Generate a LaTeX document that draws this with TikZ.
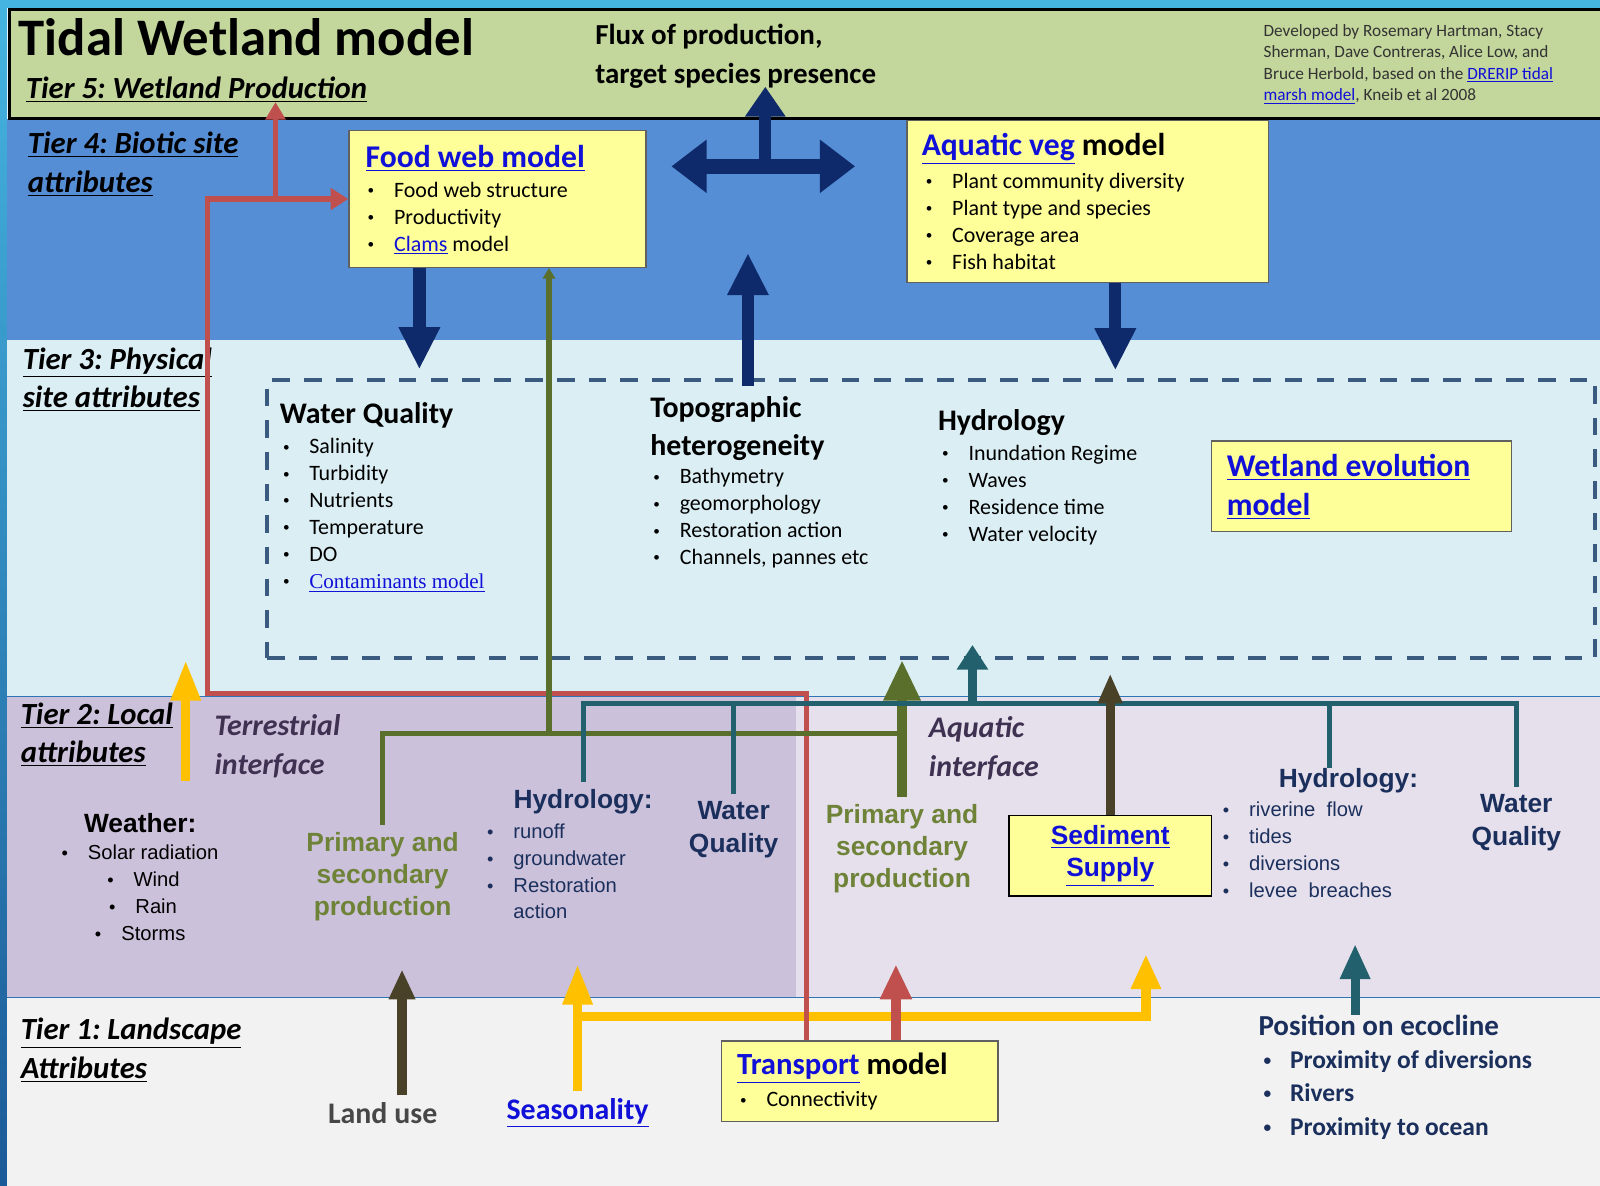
\documentclass[tikz,border=0pt]{standalone}
\usepackage{fontspec}
\setmainfont{Carlito}
\newfontfamily\arialfont{Liberation Sans}
\newfontfamily\timesfont{Liberation Serif}
\usepackage{xcolor}
\usepackage{graphicx}
\usetikzlibrary{arrows.meta,positioning,fit}
\definecolor{topcyan}{HTML}{45B4E0}
\definecolor{edgeblue}{HTML}{1B5A98}
\definecolor{t5green}{HTML}{C3D69B}
\definecolor{t4blue}{HTML}{558ED5}
\definecolor{t3blue}{HTML}{DBEEF4}
\definecolor{t2left}{HTML}{CCC1DA}
\definecolor{t2right}{HTML}{E6E0EC}
\definecolor{t1gray}{HTML}{F2F2F2}
\definecolor{sepblue}{HTML}{2E75B6}
\definecolor{boxyellow}{HTML}{FFFF99}
\definecolor{linkblue}{HTML}{1010D8}
\definecolor{navyar}{HTML}{0E2A6A}
\definecolor{dashcol}{HTML}{3B5A80}
\definecolor{redln}{HTML}{C0504D}
\definecolor{oliveln}{HTML}{5B6F2C}
\definecolor{olivetext}{HTML}{6E8238}
\definecolor{tealln}{HTML}{23606E}
\definecolor{brownln}{HTML}{4A4129}
\definecolor{yelln}{HTML}{FFC000}
\definecolor{purpletext}{HTML}{3F3151}
\definecolor{navytext}{HTML}{1B2F5C}
\definecolor{credit}{HTML}{333333}
\newcommand{\fsz}[2]{\fontsize{#1}{#2}\selectfont}
\newcommand{\link}[1]{\textcolor{linkblue}{\underline{#1}}}
\newcommand{\bul}{\makebox[15pt][l]{\raisebox{0.12em}{\scalebox{0.6}{\textbullet}}}}
\newcommand{\abul}{\makebox[15pt][l]{\scalebox{0.9}{\textbullet}}}
\frenchspacing

\begin{document}
\begin{tikzpicture}[x=0.020408cm,y=-0.020408cm,
  lbl/.style={anchor=west,inner sep=0pt,align=left},
  tier/.style={lbl,font=\fsz{17.5}{22}\bfseries\itshape},
  head/.style={lbl,font=\fsz{17}{22}\bfseries},
  items/.style={lbl,font=\fsz{12.5}{15.3}},
  arhead/.style={lbl,font=\fsz{15}{18.5}\arialfont\bfseries,text=navytext},
  aritems/.style={lbl,font=\fsz{11.5}{15.3}\arialfont},
  prod/.style={align=center,inner sep=4pt,font=\fsz{15}{18.3}\arialfont\bfseries,text=olivetext},
  iface/.style={lbl,font=\fsz{17}{22}\bfseries\itshape,text=purpletext},
  ybox/.style={draw=gray!75!black,fill=boxyellow,line width=0.8pt,inner sep=0pt}]
    \useasboundingbox (0,0) rectangle (1568,1162);

    % Frame
    \fill[topcyan] (0,0) rectangle (1568,8);
    \shade[top color=topcyan,bottom color=edgeblue] (0,0) rectangle (7,1162);

    % Tier bands
    \fill[t4blue] (7,117) rectangle (1568,333);
    \fill[t3blue] (7,333) rectangle (1568,683);
    \fill[t2left] (7,683) rectangle (780,978);
    \fill[t2right] (780,683) rectangle (1568,978);
    \fill[t1gray] (7,978) rectangle (1568,1162);
    \draw[sepblue,line width=0.6pt] (7,683) -- (1568,683);
    \draw[sepblue,line width=0.6pt] (7,978) -- (1568,978);
    \filldraw[fill=t5green,draw=black,line width=1.8pt] (9,9) rectangle (1580,116);

    % Tier 5: Wetland production
    \node[lbl,font=\fsz{30}{36}\bfseries] (title) at (18,36) {Tidal Wetland model};
    \node[tier] (t5) at (25,88) {\underline{Tier 5: Wetland Production}};
    \node[lbl,font=\fsz{16.5}{22}\bfseries] (flux) at (583,55) {Flux of production,\\target species presence};
    \node[lbl,font=\fsz{9.8}{12.2},text=credit] (cred) at (1238,63)
      {Developed by Rosemary Hartman, Stacy\\Sherman, Dave Contreras, Alice Low, and\\Bruce Herbold, based on the \link{DRERIP tidal}\\\link{marsh model}, Kneib et al 2008};

    % Tier 4: Biotic site attributes
    \node[tier] (t4) at (27,161) {\underline{Tier 4: Biotic site}\\\underline{attributes}};
    \node[ybox,fit={(342,128) (633,262)}] (fw) {};
    \node[lbl,font=\fsz{18}{22}\bfseries] (fwt) at (358,155) {\link{Food web model}};
    \node[items] (fwl) at (360,214) {\bul Food web structure\\\bul Productivity\\\bul \link{Clams} model};
    \node[ybox,fit={(889,118) (1243,277)}] (av) {};
    \node[lbl,font=\fsz{18}{22}\bfseries] (avt) at (903,146) {\link{Aquatic veg} model};
    \node[items] (avl) at (907,217) {\bul Plant community diversity\\\bul Plant type and species\\\bul Coverage area\\\bul Fish habitat};

    % Tier 3: Physical site attributes
    \node[tier] (t3) at (22,372) {\underline{Tier 3: Physical}\\\underline{site attributes}};
    \node[draw=dashcol,line width=2.3pt,dash pattern=on 10pt off 8pt,inner sep=0pt,fit={(262,372) (1563,645)}] (phys) {};
    \node[head] (wq) at (274,407) {Water Quality};
    \node[items] (wql) at (277,505) {\bul Salinity\\\bul Turbidity\\\bul Nutrients\\\bul Temperature\\\bul DO\\\bul {\timesfont\fsz{12}{15.3}\link{Contaminants model}}};
    \node[head] (topo) at (637,420) {Topographic\\heterogeneity};
    \node[items] (topol) at (640,508) {\bul Bathymetry\\\bul geomorphology\\\bul Restoration action\\\bul Channels, pannes etc};
    \node[head] (hyd) at (919,414) {Hydrology};
    \node[items] (hydl) at (923,485) {\bul Inundation Regime\\\bul Waves\\\bul Residence time\\\bul Water velocity};
    \node[ybox,fit={(1187,432) (1481,521)}] (we) {};
    \node[lbl,font=\fsz{18}{22}\bfseries] (wet) at (1202,477) {\link{Wetland evolution}\\\link{model}};

    % Tier 2: Local attributes
    \node[tier] (t2) at (20,720) {\underline{Tier 2: Local}\\\underline{attributes}};
    \node[iface] (terr) at (210,731) {Terrestrial\\interface};
    \node[iface] (aqi) at (910,733) {Aquatic\\interface};
    \node[arhead,text=black] (wth) at (82,807) {Weather:};
    \node[aritems] (wthl) at (60,875) {\abul Solar radiation\\\hspace*{26pt}\abul Wind\\\hspace*{27pt}\abul Rain\\\hspace*{19pt}\abul Storms};
    \node[prod] (prodL) at (375,859) {Primary and\\secondary\\production};
    \node[arhead,inner sep=4pt] (hyL) at (496,786) {Hydrology:};
    \node[aritems,text=navytext] (hyLl) at (477,854) {\abul runoff\\\abul groundwater\\\abul Restoration\\\hspace*{15pt}action};
    \node[arhead,align=center,anchor=center,inner sep=4pt] (wqL) at (719,813) {Water\\Quality};
    \node[prod] (prodR) at (884,832) {Primary and\\secondary\\production};
    \node[draw=black,fill=boxyellow,line width=0.8pt,inner sep=0pt,fit={(989,799) (1187,878)}] (ss) {};
    \node[align=center,font=\fsz{15}{18.5}\arialfont\bfseries] (sst) at (ss.center) {\link{Sediment}\\\link{Supply}};
    \node[arhead] (hyR) at (1253,765) {Hydrology:};
    \node[aritems,text=navytext] (hyRl) at (1198,833) {\abul riverine\ \ flow\\\abul tides\\\abul diversions\\\abul levee\ \ breaches};
    \node[arhead,align=center,anchor=center,inner sep=4pt] (wqR) at (1486,806) {Water\\Quality};

    % Tier 1: Landscape attributes
    \node[tier] (t1) at (20,1029) {\underline{Tier 1: Landscape}\\\underline{Attributes}};
    \node[inner sep=4pt,font=\fsz{17}{22}\bfseries,text=black!72] (lu) at (375,1091) {Land use};
    \node[inner sep=4pt,font=\fsz{17}{22}\bfseries] (sea) at (566,1091) {\link{Seasonality}};
    \node[ybox,fit={(707,1020) (978,1099)}] (tm) {};
    \node[lbl,font=\fsz{17.5}{22}\bfseries] (tmt) at (722,1047) {\link{Transport} model};
    \node[items] (tml) at (725,1079) {\bul Connectivity};
    \node[lbl,inner sep=0pt,font=\fsz{16.5}{22}\bfseries,text=navytext] (pos) at (1233,1005) {Position on ecocline};
    \node[lbl,font=\fsz{14.5}{18.9}\bfseries,text=navytext] (posl) at (1238,1073) {\bul Proximity of diversions\\\bul Rivers\\\bul Proximity to ocean};

    % Junction points
    \coordinate (t5in) at (270,100);
    \coordinate (rbr) at (270,195);
    \coordinate (rcor) at (203,680);
    \coordinate (rdn) at (790,0);
    \coordinate (rup) at (878,945);
    \coordinate (ohz) at (538,719);
    \coordinate (thz) at (0,689);
    \coordinate (thr) at (1303,689);
    \coordinate (tup) at (953,689);
    \coordinate (tupend) at (953,632);
    \coordinate (tpos) at (1328,925);
    \coordinate (bsed) at (1089,660);
    \coordinate (luar) at (394,950);
    \coordinate (wtbot) at (182,765);
    \coordinate (wttop) at (182,647);
    \coordinate (yhz) at (0,996);
    \coordinate (yend) at (1123,935);
    \coordinate (dbl) at (658,163);
    \coordinate (dbr) at (838,163);
    \coordinate (dbm) at (750,160);
    \coordinate (flx) at (750,85);
    \coordinate (tpbot) at (733,378);
    \coordinate (tptop) at (733,248);
    \coordinate (wqin) at (411,362);
    \coordinate (hyin) at (1093,363);

    % Yellow: weather and seasonality
    \draw[yelln,line width=5.2pt,-{Triangle[width=16pt,length=23pt]}] (wtbot) -- (wttop);
    \draw[yelln,line width=5.2pt,-{Triangle[width=16pt,length=23pt]}] (sea.north) -- (sea.north |- rup);
    \draw[yelln,line width=5.2pt,-{Triangle[width=16pt,length=20pt]}] (sea.north |- yhz) -| (yend);

    % Red: transport
    \draw[redln,line width=2.9pt,-{Triangle[width=12pt,length=10pt]}] (tm.north -| rdn) |- (rcor) |- (fw.west);
    \draw[redln,line width=2.9pt,-{Triangle[width=11pt,length=10pt]}] (rbr) -- (t5in);
    \draw[redln,line width=5.2pt,-{Triangle[width=17pt,length=20pt]}] (tm.north -| rup) -- (rup);

    % Olive: production
    \draw[oliveln,line width=2.9pt] (prodL.north) |- (prodR.north |- ohz);
    \draw[oliveln,line width=2.9pt,-{Triangle[width=7pt,length=6pt]}] (ohz) -- (fw.south -| ohz);
    \draw[oliveln,line width=5.2pt,-{Triangle[width=20pt,length=23pt]}] (prodR.north) -- (prodR.north |- phys.south);

    % Teal: hydrology and water quality
    \draw[tealln,line width=2.9pt] (hyL.north) |- (wqR.north |- thz) -- (wqR.north);
    \draw[tealln,line width=2.9pt] (wqL.north) -- (wqL.north |- thz);
    \draw[tealln,line width=2.9pt] (thr) -- (thr |- hyR.north);
    \draw[tealln,line width=5.2pt,-{Triangle[width=17pt,length=14pt]}] (tup) -- (tupend);
    \draw[tealln,line width=5.2pt,-{Triangle[width=16pt,length=20pt]}] (pos.north -| tpos) -- (tpos);

    % Brown: sediment and land use
    \draw[brownln,line width=5.2pt,-{Triangle[width=13pt,length=17pt]}] (ss.north) -- (ss.north |- bsed);
    \draw[brownln,line width=5.2pt,-{Triangle[width=14pt,length=17pt]}] (lu.north -| luar) -- (luar);

    % Navy: biotic links
    \draw[navyar,line width=8.7pt,{Triangle[width=29pt,length=20pt]}-{Triangle[width=29pt,length=20pt]}] (dbl) -- (dbr);
    \draw[navyar,line width=7pt,-{Triangle[width=22pt,length=17pt]}] (dbm) -- (flx);
    \draw[navyar,line width=7pt,-{Triangle[width=22pt,length=24pt]}] (tpbot) -- (tptop);
    \draw[navyar,line width=7pt,-{Triangle[width=22pt,length=24pt]}] (fw.south -| wqin) -- (wqin);
    \draw[navyar,line width=7pt,-{Triangle[width=22pt,length=24pt]}] (av.south -| hyin) -- (hyin);
\end{tikzpicture}
\end{document}
